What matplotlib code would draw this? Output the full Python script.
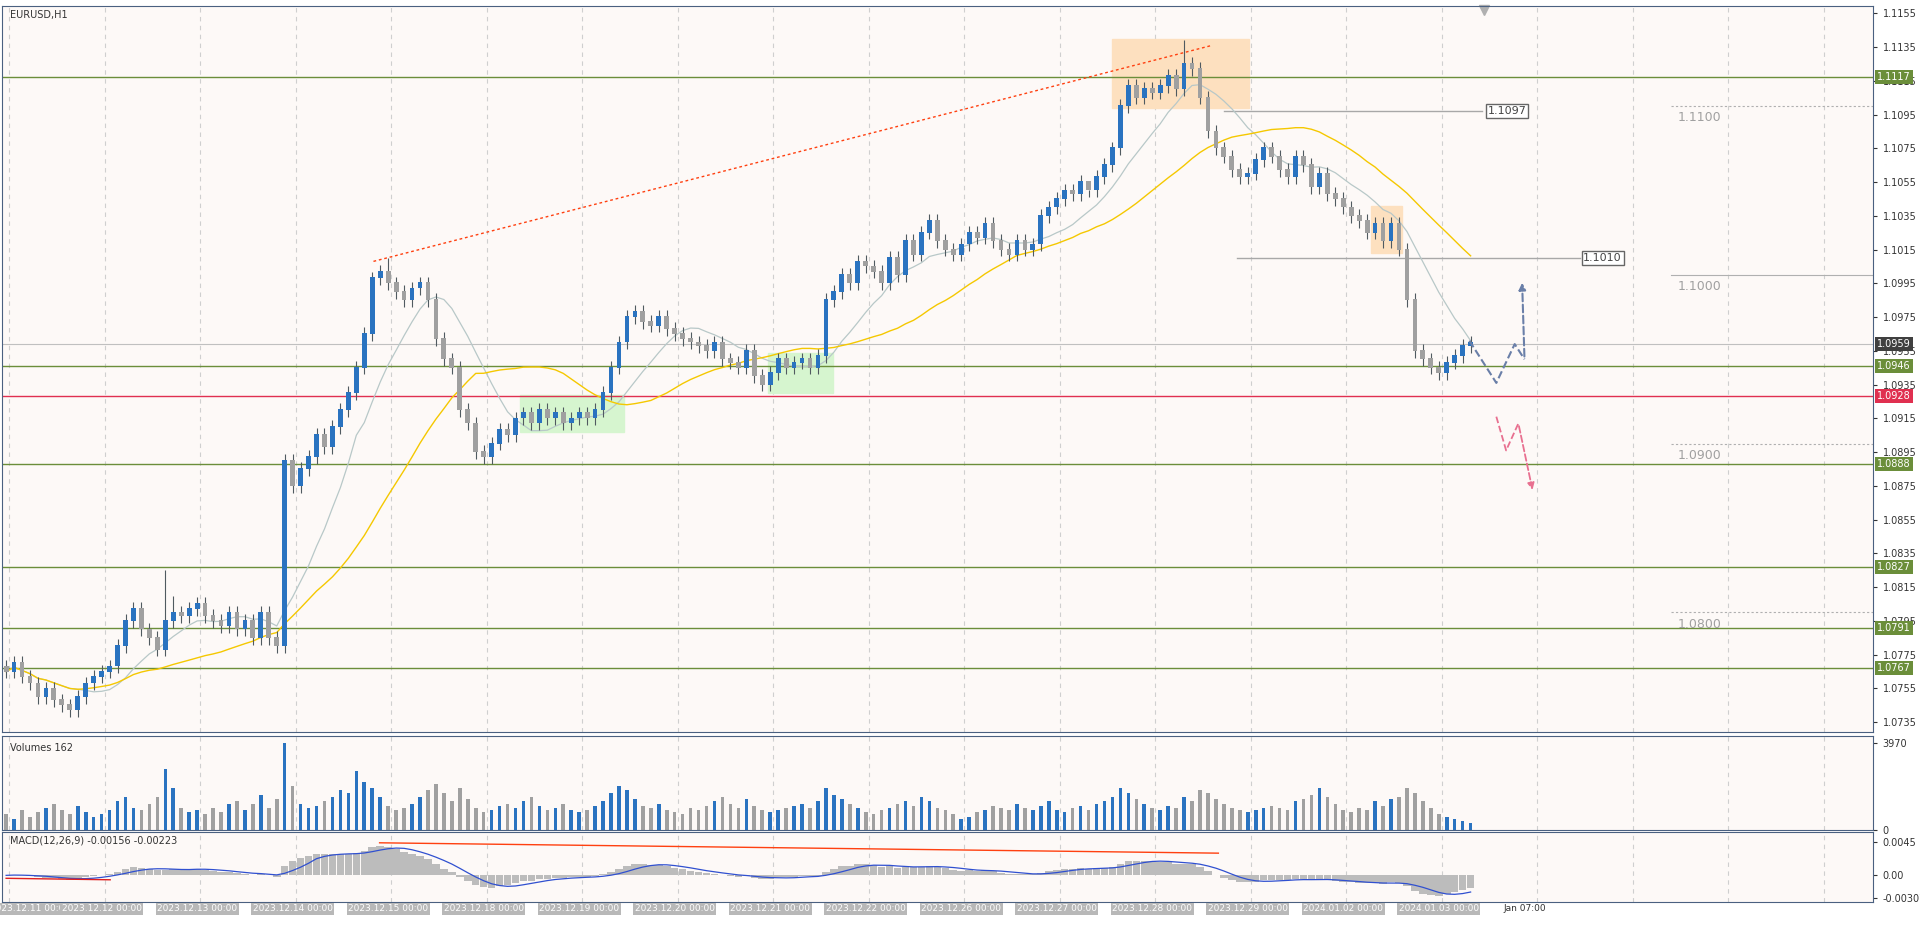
import numpy as np
import matplotlib
matplotlib.use("Agg")
import matplotlib.pyplot as plt
from matplotlib.patches import Rectangle

# 2-hour closes, 12 per day
closes = [
    1.0765, 1.0770, 1.0762, 1.0758, 1.0750, 1.0755, 1.0748, 1.0745, 1.0742, 1.0750, 1.0758, 1.0762,
    1.0765, 1.0768, 1.0780, 1.0795, 1.0802, 1.0790, 1.0785, 1.0778, 1.0795, 1.0800, 1.0798, 1.0802,
    1.0805, 1.0798, 1.0795, 1.0792, 1.0800, 1.0790, 1.0795, 1.0785, 1.0800, 1.0785, 1.0780, 1.0890,
    1.0875, 1.0885, 1.0892, 1.0905, 1.0898, 1.0910, 1.0920, 1.0930, 1.0945, 1.0965, 1.0998, 1.1002,
    1.0995, 1.0990, 1.0985, 1.0992, 1.0995, 1.0985, 1.0962, 1.0950, 1.0945, 1.0920, 1.0912, 1.0895,
    1.0892, 1.0900, 1.0908, 1.0905, 1.0915, 1.0918, 1.0912, 1.0920, 1.0915, 1.0918, 1.0912, 1.0915,
    1.0918, 1.0915, 1.0920, 1.0930, 1.0945, 1.0960, 1.0975, 1.0978, 1.0972, 1.0970, 1.0975, 1.0968,
    1.0965, 1.0962, 1.0960, 1.0958, 1.0955, 1.0960, 1.0950, 1.0948, 1.0945, 1.0955, 1.0940, 1.0935,
    1.0942, 1.0950, 1.0945, 1.0948, 1.0950, 1.0945, 1.0952, 1.0985, 1.0990, 1.1000, 1.0995, 1.1008,
    1.1005, 1.1002, 1.0995, 1.1010, 1.1000, 1.1020, 1.1012, 1.1025, 1.1032, 1.1020, 1.1015, 1.1012,
    1.1018, 1.1025, 1.1022, 1.1030, 1.1020, 1.1015, 1.1012, 1.1020, 1.1015, 1.1018, 1.1035, 1.1040,
    1.1045, 1.1050, 1.1048, 1.1055, 1.1050, 1.1058, 1.1065, 1.1075, 1.1100, 1.1112, 1.1105, 1.1110,
    1.1108, 1.1112, 1.1118, 1.1110, 1.1125, 1.1122, 1.1105, 1.1085, 1.1075, 1.1070, 1.1062, 1.1058,
    1.1060, 1.1068, 1.1075, 1.1070, 1.1062, 1.1058, 1.1070, 1.1065, 1.1052, 1.1060, 1.1048, 1.1045,
    1.1040, 1.1035, 1.1032, 1.1025, 1.1030, 1.1020, 1.1030, 1.1015, 1.0985, 1.0955, 1.0950, 1.0945,
    1.0942, 1.0948, 1.0952, 1.0958, 1.0960,
]
first_open = 1.0768
wick = 0.0004
spikes = {20: 1.0825, 21: 1.0810, 48: 1.1010, 148: 1.1139, 136: 1.1050}

volumes = [
    700, 500, 900, 600, 800, 1000, 1200, 900, 700, 1100, 800, 600,
    700, 900, 1300, 1500, 1000, 900, 1200, 1500, 2800, 1900, 1000, 800,
    900, 700, 1000, 800, 1200, 1300, 900, 1200, 1600, 1000, 1400, 3970,
    2000, 1200, 1000, 1100, 1300, 1500, 1800, 1700, 2700, 2200, 1900, 1500,
    1100, 900, 1000, 1200, 1500, 1800, 2100, 1700, 1300, 1900, 1400, 1000,
    800, 900, 1100, 1200, 1000, 1300, 1500, 1100, 900, 1000, 1200, 900,
    800, 900, 1100, 1300, 1700, 2000, 1800, 1400, 1100, 1000, 1200, 900,
    800, 700, 1000, 900, 1100, 1300, 1500, 1200, 1000, 1400, 1100, 900,
    800, 900, 1000, 1100, 1200, 1000, 1300, 1900, 1600, 1400, 1200, 1000,
    800, 700, 900, 1000, 1200, 1300, 1100, 1500, 1300, 1000, 900, 700,
    500, 600, 800, 900, 1100, 1000, 900, 1200, 1000, 900, 1100, 1300,
    900, 800, 1000, 1100, 900, 1200, 1300, 1500, 1900, 1700, 1400, 1200,
    1000, 900, 1100, 1000, 1500, 1300, 1800, 1700, 1400, 1200, 1000, 900,
    800, 900, 1000, 1100, 1000, 900, 1300, 1400, 1600, 1900, 1500, 1200,
    900, 800, 1000, 900, 1300, 1100, 1400, 1500, 1900, 1700, 1300, 1000,
    700, 600, 500, 400, 300,
]

green_levels = [1.1117, 1.0946, 1.0888, 1.0827, 1.0791, 1.0767]
red_level = 1.0928
last_price = 1.0959
round_levels = [1.1100, 1.1000, 1.0900, 1.0800]
day_labels = ["2023.12.11 00:00", "2023.12.12 00:00", "2023.12.13 00:00", "2023.12.14 00:00",
              "2023.12.15 00:00", "2023.12.18 00:00", "2023.12.19 00:00", "2023.12.20 00:00",
              "2023.12.21 00:00", "2023.12.22 00:00", "2023.12.26 00:00", "2023.12.27 00:00",
              "2023.12.28 00:00", "2023.12.29 00:00", "2024.01.02 00:00", "2024.01.03 00:00"]

BG = "#fdf9f7"
BLUE = "#2a73c0"
GRAY = "#a0a0a0"
GREEN = "#6b8e3a"

c = np.array(closes)
n = len(c)
o = np.concatenate([[first_open], c[:-1]])
hi = np.maximum(o, c) + wick
lo = np.minimum(o, c) - wick
for k, v in spikes.items():
    hi[k] = v
x = np.arange(n)

def ema(a, p):
    out = np.zeros_like(a)
    out[0] = a[0]
    al = 2 / (p + 1)
    for i in range(1, len(a)):
        out[i] = al * a[i] + (1 - al) * out[i - 1]
    return out

def sma(a, p):
    return np.array([a[max(0, i - p + 1):i + 1].mean() for i in range(len(a))])

# x positions measured on a 1568-wide view of the reference
W = 1568.0
px = 6.5
def X(p):
    return (p - 5) / px

XMIN, XMAX = X(2), X(1530)

fig = plt.figure(figsize=(19.2, 9.27), dpi=100, facecolor="white")
L, R = 2 / W, 1530 / W
ax = fig.add_axes([L, 0.21, R - L, 0.783], facecolor=BG)
axv = fig.add_axes([L, 0.105, R - L, 0.101], facecolor=BG)
axm = fig.add_axes([L, 0.027, R - L, 0.075], facecolor=BG)

for a in (ax, axv, axm):
    a.set_xlim(XMIN, XMAX)
    for gx in np.arange(X(7.5), XMAX, 12):
        a.axvline(gx, color="#cfcfcf", ls=(0, (4, 4)), lw=0.8, zorder=0)
    a.tick_params(axis="y", which="both", right=True, left=False, labelright=True, labelleft=False,
                  labelsize=7, length=3, colors="#333333")
    a.tick_params(axis="x", bottom=False, labelbottom=False)
    for s in a.spines.values():
        s.set_color("#4a6080")

# price panel
ax.set_ylim(1.0729, 1.1159)
ticks = np.round(np.arange(1.0735, 1.1160, 0.002), 4)
ax.set_yticks(ticks)
ax.set_yticklabels([f"{t:.4f}" for t in ticks])

# rectangles
ax.add_patch(Rectangle((X(908), 1.1099), X(1020) - X(908), 0.0041, color="#fde0bf", zorder=1))
ax.add_patch(Rectangle((X(1120), 1.1013), X(1145) - X(1120), 0.0028, color="#fde0bf", zorder=1))
ax.add_patch(Rectangle((X(425), 1.0907), X(510) - X(425), 0.0022, color="#d6f5cf", zorder=1))
ax.add_patch(Rectangle((X(627), 1.0930), X(680) - X(627), 0.0024, color="#d6f5cf", zorder=1))

for lv in green_levels:
    ax.axhline(lv, color=GREEN, lw=1, zorder=2)
ax.axhline(red_level, color="#e03050", lw=1, zorder=2)
ax.axhline(last_price, color="#c0c0c0", lw=0.8, zorder=2)

# trend line and marked levels
ax.plot([X(305), X(990)], [1.1008, 1.1136], color="#ff4010", ls=(0, (2, 2)), lw=1, zorder=3)
ax.plot([X(1000), X(1210)], [1.1097, 1.1097], color="#a8a8a8", lw=1, zorder=2)
ax.plot([X(1010), X(1290)], [1.1010, 1.1010], color="#a8a8a8", lw=1, zorder=2)
ax.text(X(1215), 1.1097, "1.1097", fontsize=8, va="center", color="#444",
        bbox=dict(boxstyle="square,pad=0.15", fc="white", ec="#666"))
ax.text(X(1293), 1.1010, "1.1010", fontsize=8, va="center", color="#444",
        bbox=dict(boxstyle="square,pad=0.15", fc="white", ec="#666"))
for lv in round_levels:
    ax.plot([X(1365), XMAX], [lv, lv], color="#b0b0b0", lw=0.8,
            ls=(0, (2, 2)) if lv != 1.1000 else "-", zorder=2)
    ax.text(X(1370), lv - 0.0003, f"{lv:.4f}", fontsize=9, va="top", color="#a0a0a0")

# moving averages
ax.plot(x, sma(c, 10), color="#b8c8c8", lw=0.9, zorder=3)
ax.plot(x, sma(c, 25), color="#f5c800", lw=1, zorder=3)

# candles
up = c >= o
cols = np.where(up, BLUE, GRAY)
ax.vlines(x, lo, hi, colors="#505a60", lw=0.8, zorder=4)
ax.bar(x, np.abs(c - o) + 0.00005, bottom=np.minimum(o, c), width=0.6, color=cols, zorder=5)

# forecast arrows
ax.annotate("", xy=(X(1243), 1.0997), xytext=(X(1245), 1.0950),
            arrowprops=dict(arrowstyle="-|>", color="#6a7fa8", lw=1.5, ls="--"), zorder=6)
ax.plot([X(1200), X(1222), X(1237), X(1245)], [1.0961, 1.0936, 1.0959, 1.0950],
        color="#6a7fa8", lw=1.5, ls="--", zorder=6)
ax.plot([X(1222), X(1230), X(1240)], [1.0916, 1.0896, 1.0912], color="#e87090", lw=1.3, ls="--", zorder=6)
ax.annotate("", xy=(X(1252), 1.0871), xytext=(X(1240), 1.0912),
            arrowprops=dict(arrowstyle="-|>", color="#e87090", lw=1.3, ls="--"), zorder=6)

# price labels on right
def lab(a, y, txt, fc, tc="white"):
    a.text(1.002, y, txt, transform=a.get_yaxis_transform(), fontsize=7, va="center", color=tc,
           bbox=dict(boxstyle="square,pad=0.2", fc=fc, ec="none"), clip_on=False, zorder=10)
for lv in green_levels:
    lab(ax, lv, f"{lv:.4f}", GREEN)
lab(ax, red_level, f"{red_level:.4f}", "#e03050")
lab(ax, last_price, f"{last_price:.4f}", "#404040")
ax.text(0.004, 0.995, "EURUSD,H1", transform=ax.transAxes, fontsize=7, va="top", color="#333")
ax.plot([X(1212)], [1.1157], marker="v", color="#b0b0b0", ms=7, clip_on=False)

# volumes
axv.bar(x, volumes, width=0.45, color=cols)
axv.set_ylim(0, 4300)
axv.set_yticks([0, 3970])
axv.text(0.004, 0.93, "Volumes 162", transform=axv.transAxes, fontsize=7, va="top", color="#333")

# MACD
macd = ema(c, 6) - ema(c, 13)
sig = sma(macd, 5)
axm.bar(x, macd, width=0.95, color="#bcbcbc")
axm.plot(x, sig, color="#3050d0", lw=0.9)
axm.plot([X(310), X(995)], [0.0044, 0.0030], color="#ff4010", lw=1)
axm.plot([X(5), X(90)], [-0.0004, -0.0006], color="#e02020", lw=1)
axm.set_ylim(-0.0036, 0.0058)
axm.set_yticks([0.0045, 0.0, -0.00307])
axm.set_yticklabels(["0.0045", "0.00", "-0.00307"])
axm.text(0.004, 0.95, "MACD(12,26,9) -0.00156 -0.00223", transform=axm.transAxes, fontsize=7,
         va="top", color="#333")

# date labels
for i, d in enumerate(day_labels):
    axm.text(i * 12 + (3 if i == 0 else 0), -0.0039, d, fontsize=6.5, ha="center", va="top",
             color="white", bbox=dict(boxstyle="square,pad=0.15", fc="#b8b8b8", ec="none"),
             clip_on=False)
axm.text(X(1228), -0.0039, "Jan 07:00", fontsize=6.5, ha="left", va="top", color="#333", clip_on=False)

fig.savefig("out.png", dpi=100, facecolor="white")
